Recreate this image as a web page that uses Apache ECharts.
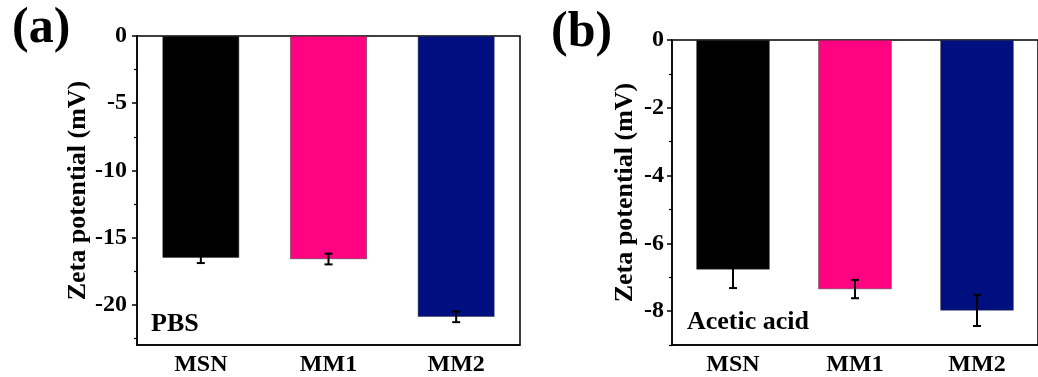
<!DOCTYPE html>
<html>
<head>
<meta charset="utf-8">
<script src="https://cdn.jsdelivr.net/npm/echarts@6/dist/echarts.min.js"></script>
<style>
html,body{margin:0;padding:0;background:#fff;}
#chart{width:1038px;height:377px;}
</style>
</head>
<body>
<div id="chart"></div>
<script>
// 数据
var samples = ['MSN', 'MM1', 'MM2'];
var colors = ['#000000', '#ff0381', '#000f80'];
var pbsZeta = [-16.5, -16.6, -20.9];
var pbsErr = [0.4, 0.4, 0.4];
var acidZeta = [-6.77, -7.35, -7.98];
var acidErr = [0.55, 0.27, 0.46];
var pbsTicks = [0, -5, -10, -15, -20];
var pbsMinor = [-2.5, -7.5, -12.5, -17.5, -22.5];
var acidTicks = [0, -2, -4, -6, -8];
var acidMinor = [-1, -3, -5, -7, -9];

var font = 'Liberation Serif';

function barData(vals) {
    return vals.map(function (v, i) {
        return {value: v, itemStyle: {color: colors[i]}};
    });
}
function errData(vals, errs) {
    return vals.map(function (v, i) {
        return [i, v - errs[i], v + errs[i]];
    });
}
//误差线
function renderErr(params, api) {
    var lo = api.coord([api.value(0), api.value(1)]);
    var hi = api.coord([api.value(0), api.value(2)]);
    var w = 4;
    var st = {stroke: '#000', lineWidth: 2};
    return {
        type: 'group',
        children: [
            {type: 'line', shape: {x1: lo[0], y1: lo[1], x2: hi[0], y2: hi[1]}, style: st},
            {type: 'line', shape: {x1: lo[0] - w, y1: lo[1], x2: lo[0] + w, y2: lo[1]}, style: st},
            {type: 'line', shape: {x1: hi[0] - w, y1: hi[1], x2: hi[0] + w, y2: hi[1]}, style: st}
        ]
    };
}

function xAx(idx) {
    return {
        type: 'category',
        gridIndex: idx,
        data: samples,
        axisLine: {onZero: false, lineStyle: {color: '#000', width: 1.5}},
        axisTick: {alignWithLabel: true, length: 5, lineStyle: {color: '#000', width: 1.5}},
        axisLabel: {color: '#000', fontFamily: font, fontWeight: 'bold', fontSize: 24, margin: 8}
    };
}
function yAx(idx, min, ticks, gap, margin) {
    return {
        type: 'value',
        gridIndex: idx,
        position: 'left',
        min: min,
        max: 0,
        name: 'Zeta potential (mV)',
        nameLocation: 'middle',
        nameGap: gap,
        nameTextStyle: {color: '#000', fontFamily: font, fontWeight: 'bold', fontSize: 26},
        axisLine: {show: true, onZero: false, lineStyle: {color: '#000', width: 1.5}},
        axisTick: {show: true, length: 5, customValues: ticks, lineStyle: {color: '#000', width: 1.5}},
        splitLine: {show: false},
        axisLabel: {color: '#000', fontFamily: font, fontWeight: 'bold', fontSize: 24, margin: margin,
            customValues: ticks}
    };
}
//副刻度
function yMinor(idx, min, minor) {
    return {
        type: 'value',
        gridIndex: idx,
        position: 'left',
        offset: 0,
        min: min,
        max: 0,
        axisLine: {show: false, onZero: false},
        axisTick: {show: true, length: 3, customValues: minor, lineStyle: {color: '#000', width: 1.2}},
        axisLabel: {show: false},
        splitLine: {show: false}
    };
}

var chart = echarts.init(document.getElementById('chart'));
var option = {
    animation: false,
    grid: [
        {left: 137, top: 36, right: 518, bottom: 32, show: true, borderColor: '#000', borderWidth: 1.5},
        {left: 672, top: 40, right: -13, bottom: 32, show: true, borderColor: '#000', borderWidth: 1.5}
    ],
    xAxis: [xAx(0), xAx(1)],
    yAxis: [
        yAx(0, -23, pbsTicks, 46, 10),
        yAx(1, -9, acidTicks, 34, 8),
        yMinor(0, -23, pbsMinor),
        yMinor(1, -9, acidMinor)
    ],
    series: [
        {type: 'bar', xAxisIndex: 0, yAxisIndex: 0, barWidth: '60%', data: barData(pbsZeta),
            itemStyle: {borderColor: '#333', borderWidth: 0.5}},
        {type: 'custom', xAxisIndex: 0, yAxisIndex: 0, renderItem: renderErr, data: errData(pbsZeta, pbsErr), z: 5},
        {type: 'bar', xAxisIndex: 1, yAxisIndex: 1, barWidth: '60%', data: barData(acidZeta),
            itemStyle: {borderColor: '#333', borderWidth: 0.5}},
        {type: 'custom', xAxisIndex: 1, yAxisIndex: 1, renderItem: renderErr, data: errData(acidZeta, acidErr), z: 5}
    ],
    graphic: [
        {type: 'text', left: 12, top: 4, style: {text: '(a)', fill: '#000', font: 'bold 50px "Liberation Serif"'}},
        {type: 'text', left: 551, top: 8, style: {text: '(b)', fill: '#000', font: 'bold 50px "Liberation Serif"'}},
        {type: 'text', left: 151, top: 311, style: {text: 'PBS', fill: '#000', font: 'bold 26px "Liberation Serif"'}},
        {type: 'text', left: 687, top: 309, style: {text: 'Acetic acid', fill: '#000', font: 'bold 26px "Liberation Serif"'}}
    ]
};
chart.setOption(option);
</script>
</body>
</html>
